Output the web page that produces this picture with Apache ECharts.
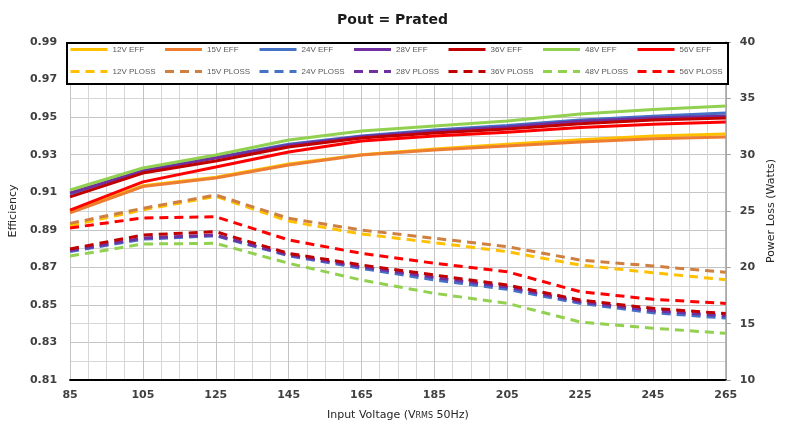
<!DOCTYPE html>
<html>
<head>
<meta charset="utf-8">
<script src="https://cdn.jsdelivr.net/npm/echarts@6/dist/echarts.min.js"></script>
<style>
html,body{margin:0;padding:0;background:#fff;}
#chart{width:785px;height:428px;}
</style>
</head>
<body>
<div id="chart"></div>
<script>
// ---- data ----
const voltages = [85, 105, 125, 145, 165, 185, 205, 225, 245, 265];

const eff12 = [0.8995, 0.9135, 0.9180, 0.9250, 0.9300, 0.9330, 0.9355, 0.9380, 0.9400, 0.9410];
const eff15 = [0.8990, 0.9130, 0.9176, 0.9245, 0.9298, 0.9325, 0.9346, 0.9368, 0.9385, 0.9394];
const eff24 = [0.9090, 0.9215, 0.9285, 0.9355, 0.9400, 0.9432, 0.9455, 0.9485, 0.9505, 0.9522];
const eff28 = [0.9096, 0.9213, 0.9282, 0.9350, 0.9395, 0.9425, 0.9448, 0.9478, 0.9495, 0.9506];
const eff36 = [0.9075, 0.9202, 0.9266, 0.9341, 0.9389, 0.9415, 0.9437, 0.9465, 0.9485, 0.9495];
const eff48 = [0.9112, 0.9229, 0.9298, 0.9378, 0.9426, 0.9453, 0.9479, 0.9517, 0.9540, 0.9559];
const eff56 = [0.9005, 0.9155, 0.9234, 0.9314, 0.9373, 0.9400, 0.9420, 0.9445, 0.9462, 0.9474];

const ploss12 = [23.70, 25.10, 26.30, 24.10, 22.96, 22.19, 21.39, 20.20, 19.52, 18.90];
const ploss15 = [23.90, 25.24, 26.42, 24.35, 23.31, 22.58, 21.83, 20.65, 20.12, 19.56];
const ploss24 = [21.40, 22.50, 22.80, 21.03, 19.91, 18.88, 18.05, 16.81, 15.97, 15.50];
const ploss28 = [21.50, 22.60, 22.87, 21.10, 20.05, 19.10, 18.25, 16.95, 16.15, 15.70];
const ploss36 = [21.63, 22.87, 23.16, 21.24, 20.21, 19.32, 18.43, 17.10, 16.36, 15.90];
const ploss48 = [21.00, 22.07, 22.13, 20.36, 18.87, 17.69, 16.81, 15.15, 14.60, 14.14];
const ploss56 = [23.50, 24.38, 24.49, 22.43, 21.24, 20.36, 19.61, 17.84, 17.16, 16.80];

const effNames = ['12V EFF', '15V EFF', '24V EFF', '28V EFF', '36V EFF', '48V EFF', '56V EFF'];
const plossNames = ['12V PLOSS', '15V PLOSS', '24V PLOSS', '28V PLOSS', '36V PLOSS', '48V PLOSS', '56V PLOSS'];
const effData = [eff12, eff15, eff24, eff28, eff36, eff48, eff56];
const plossData = [ploss12, ploss15, ploss24, ploss28, ploss36, ploss48, ploss56];

const xTicks = { min: 85, max: 265, interval: 20 };
const effTicks = { min: 0.81, max: 0.99, interval: 0.02 };
const plossTicks = { min: 10, max: 40, interval: 5 };

// ---- styles ----
const effColors = ['#FFC000', '#ED7D31', '#4472C4', '#7030A0', '#C00000', '#92D050', '#FF0000'];
const plossColors = ['#FFC000', '#CF8040', '#4472C4', '#7030A0', '#C00000', '#92D050', '#FF0000'];

const series = [];
effNames.forEach((n, i) => {
  series.push({
    name: n, type: 'line', yAxisIndex: 0, symbol: 'none', z: 3,
    data: voltages.map((v, k) => [v, effData[i][k]]),
    lineStyle: { color: effColors[i], width: 3, type: 'solid' },
    itemStyle: { color: effColors[i] }
  });
});
plossNames.forEach((n, i) => {
  series.push({
    name: n, type: 'line', yAxisIndex: 1, symbol: 'none', z: 2,
    data: voltages.map((v, k) => [v, plossData[i][k]]),
    lineStyle: { color: plossColors[i], width: 3, type: [9, 6] },
    itemStyle: { color: plossColors[i] }
  });
});

const legends = [];
const legendTextStyle = { fontSize: 8, color: '#595959', fontFamily: 'Liberation Sans' };
effNames.concat(plossNames).forEach((n, idx) => {
  const col = idx % 7, row = Math.floor(idx / 7);
  legends.push({
    data: [n], selectedMode: false,
    left: 64 + col * 94.5, top: 39 + row * 22,
    itemWidth: 37, itemHeight: 14, itemGap: 3,
    itemStyle: { opacity: 0 },
    lineStyle: { width: 3 },
    textStyle: legendTextStyle, z: 5
  });
});

const axisLabelStyle = { fontSize: 11, fontWeight: 'bold', color: '#404040', fontFamily: 'DejaVu Sans' };
const nameStyle = { fontSize: 11, color: '#262626', fontFamily: 'DejaVu Sans' };

const option = {
  animation: false,
  backgroundColor: '#fff',
  title: {
    text: 'Pout = Prated', left: 'center', top: 8,
    textStyle: { fontSize: 14, fontWeight: 'bold', color: '#1a1a1a', fontFamily: 'DejaVu Sans' }
  },
  grid: { left: 66, right: 57, top: 42, bottom: 48, containLabel: false },
  legend: legends,
  graphic: [{
    type: 'rect', left: 66, top: 42, z: 4,
    shape: { width: 661, height: 41 },
    style: { fill: '#fff', stroke: '#000', lineWidth: 2 }
  }],
  xAxis: {
    type: 'value', min: xTicks.min, max: xTicks.max, interval: xTicks.interval,
    name: 'Input Voltage (V{s|RMS} 50Hz)', nameLocation: 'middle', nameGap: 30,
    nameTextStyle: Object.assign({}, nameStyle, { rich: { s: { fontSize: 8, fontFamily: 'DejaVu Sans', color: '#262626' } } }),
    axisLine: { show: true, lineStyle: { color: '#000', width: 2 } },
    axisTick: { show: false },
    axisLabel: Object.assign({ margin: 10 }, axisLabelStyle),
    splitLine: { show: true, lineStyle: { color: '#c4c4c4', width: 1 } },
    minorTick: { show: false, splitNumber: 4 },
    minorSplitLine: { show: true, lineStyle: { color: '#d6d6d6', width: 1 } }
  },
  yAxis: [{
    type: 'value', min: effTicks.min, max: effTicks.max, interval: effTicks.interval,
    name: 'Efficiency', nameLocation: 'middle', nameGap: 46, nameTextStyle: nameStyle,
    axisLine: { show: false },
    axisTick: { show: false },
    axisLabel: Object.assign({ margin: 13, formatter: v => v.toFixed(2) }, axisLabelStyle),
    splitLine: { show: true, lineStyle: { color: '#c4c4c4', width: 1 } },
    minorTick: { show: false, splitNumber: 2 },
    minorSplitLine: { show: true, lineStyle: { color: '#d6d6d6', width: 1 } }
  }, {
    type: 'value', min: plossTicks.min, max: plossTicks.max, interval: plossTicks.interval,
    position: 'right',
    name: 'Power Loss (Watts)', nameLocation: 'middle', nameGap: 40, nameRotate: 90,
    nameTextStyle: nameStyle,
    axisLine: { show: true, lineStyle: { color: '#a0a0a0', width: 1.5 } },
    axisTick: { show: true, length: 5, lineStyle: { color: '#a0a0a0' } },
    axisLabel: Object.assign({ margin: 14 }, axisLabelStyle),
    splitLine: { show: false }
  }],
  series: series
};

const chart = echarts.init(document.getElementById('chart'), null, { renderer: 'canvas' });
chart.setOption(option);
</script>
</body>
</html>
